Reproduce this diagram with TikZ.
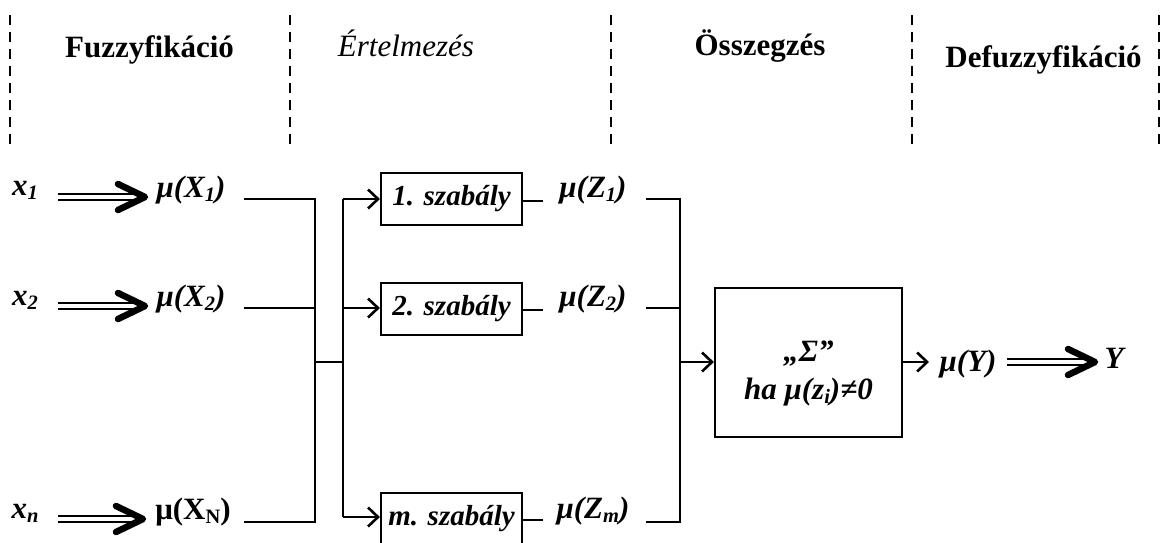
\documentclass[tikz,border=0pt]{standalone}
\usepackage{fontspec}
\setmainfont{Liberation Serif}
\usetikzlibrary{arrows.meta,calc}
\newcommand\dn[1]{\raisebox{-0.3ex}{\scalebox{0.66}{#1}}}
\tikzset{
  lbl/.style={font=\fontsize{31}{36}\selectfont\bfseries\itshape, inner sep=0pt, anchor=base},
  lblup/.style={font=\fontsize{31}{36}\selectfont\bfseries, inner sep=0pt, anchor=base},
  hdr/.style={font=\fontsize{31}{36}\selectfont\bfseries, inner sep=0pt, anchor=base},
  hdri/.style={font=\fontsize{31}{36}\selectfont\itshape, inner sep=0pt, anchor=base},
  rulebox/.style={draw, line width=2.2pt, minimum width=141pt, minimum height=52pt, inner sep=0pt,
    font=\fontsize{29}{34}\selectfont\bfseries\itshape},
  wire/.style={line width=2.6pt},
  arr/.style={wire, -{Straight Barb[length=10pt,width=19pt]}},
  dashline/.style={line width=2.6pt, dash pattern=on 10pt off 7pt},
  dblshaft/.style={double, double distance=4pt, line width=2.2pt},
  chev/.style={line width=6.5pt, line cap=round, line join=round},
}
\newcommand\fatarrow[2]{%
  \draw[dblshaft] (#1) -- ($(#2)+(-10,0)$);
  \draw[chev] ($(#2)+(-27,-13)$) -- (#2) -- ($(#2)+(-27,13)$);
}
\begin{document}
\begin{tikzpicture}[x=1pt,y=-1pt]
\useasboundingbox (0,0) rectangle (1164,542);
% dashed separators
\foreach \xx in {10,290,611,912,1159}
  \draw[dashline] (\xx,15) -- (\xx,150);
% headers
\node[hdr]  (h1) at (149.5,57) {Fuzzyfikáció};
\node[hdri] (h2) at (406,56) {Értelmezés};
\node[hdr]  (h3) at (760,55) {Összegzés};
\node[hdr]  (h4) at (1043.5,67) {Defuzzyfikáció};

% inputs
\node[lbl] (x1) at (25,195) {x\dn{1}};
\node[lbl] (x2) at (25,305) {x\dn{2}};
\node[lbl] (xn) at (25,518) {x\dn{n}};
\node[lbl] (mx1) at (191,197) {μ(X\dn{1})};
\node[lbl] (mx2) at (191,306) {μ(X\dn{2})};
\node[lblup] (mxn) at (193,519) {μ(X\dn{N})};

\coordinate (a1s) at (58,197); \coordinate (a1e) at (145,197);
\coordinate (a2s) at (58,306); \coordinate (a2e) at (145,306);
\coordinate (ans) at (58,519); \coordinate (ane) at (143,519);
\fatarrow{a1s}{a1e}
\fatarrow{a2s}{a2e}
\fatarrow{ans}{ane}

% left bus
\coordinate (w1) at (244,199); \coordinate (b1) at (315,199);
\coordinate (w2) at (244,308); \coordinate (b2) at (315,308);
\coordinate (wn) at (244,522); \coordinate (bn) at (315,522);
\coordinate (jl) at (315,362); \coordinate (jr) at (343,362);
\coordinate (c1) at (343,199); \coordinate (c2) at (343,308); \coordinate (cn) at (343,517);
\draw[wire] (w1) -- (b1) -- (bn) -- (wn);
\draw[wire] (w2) -- (b2);
\draw[wire] (jl) -- (jr);
\draw[wire] (c1) -- (cn);

% rule boxes
\node[rulebox] (r1) at (451.5,199) {1. szabály};
\node[rulebox] (r2) at (451.5,309) {2. szabály};
\node[rulebox] (rm) at (451.5,519) {m. szabály};
\draw[arr] (c1) -- (c1 -| r1.west);
\draw[arr] (c2) -- (c2 -| r2.west);
\draw[arr] (cn) -- (cn -| rm.west);

% rule outputs
\node[lbl] (z1) at (593,197) {μ(Z\dn{1})};
\node[lbl] (z2) at (593,306) {μ(Z\dn{2})};
\node[lbl] (zm) at (593,518) {μ(Z\dn{m})};
\coordinate (o1) at (543,201); \coordinate (o2) at (543,310); \coordinate (om) at (543,520);
\draw[wire] (r1.east |- o1) -- (o1);
\draw[wire] (r2.east |- o2) -- (o2);
\draw[wire] (rm.east |- om) -- (om);

\coordinate (p1) at (646,199); \coordinate (q1) at (680,199);
\coordinate (p2) at (646,308); \coordinate (q2) at (680,308);
\coordinate (pm) at (646,522); \coordinate (qm) at (680,522);
\coordinate (qj) at (680,362);
\draw[wire] (p1) -- (q1) -- (qm) -- (pm);
\draw[wire] (p2) -- (q2);

% sum box
\node[draw, line width=2.2pt, minimum width=187pt, minimum height=149pt, inner sep=0pt] (sum) at (808.5,362.5) {};
\node[lbl] (sig) at (808.5,361) {„\textit{Σ}”};
\node[lbl] (cond) at (808.5,399) {ha μ(z\dn{i})≠0};
\draw[arr] (qj) -- (qj -| sum.west);

% output
\node[lbl] (my) at (968,371) {μ(Y)};
\node[lbl] (y) at (1114,368) {Y};
\coordinate (so) at (929,362);
\draw[arr] (sum.east |- so) -- (so);
\coordinate (ys) at (1007,362); \coordinate (ye) at (1095,362);
\fatarrow{ys}{ye}
\end{tikzpicture}
\end{document}
